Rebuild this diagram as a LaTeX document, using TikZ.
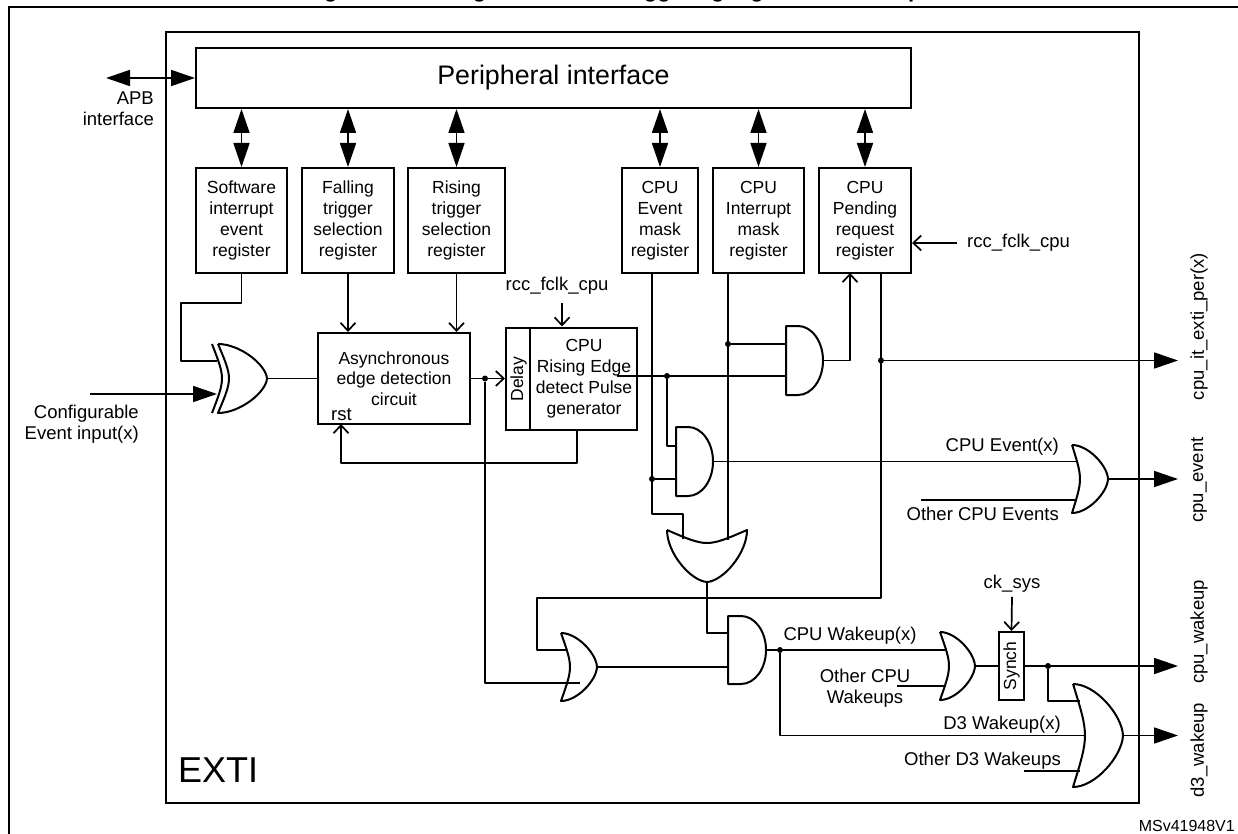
\documentclass[tikz,border=0pt]{standalone}
\usepackage{fontspec}
\setmainfont{Liberation Sans}
\usetikzlibrary{arrows.meta,calc}
\newcommand\fs[2]{\fontsize{#1pt}{#2pt}\selectfont}
\newcommand\andgate[4]{%
\draw[gate] (#1,#2) -- ({#4-25},#2) .. controls ({#4-11.2},#2) and (#4,{(#2+#3)/2-0.276*(#3-#2)}) .. (#4,{(#2+#3)/2}) .. controls (#4,{(#2+#3)/2+0.276*(#3-#2)}) and ({#4-11.2},#3) .. ({#4-25},#3) -- (#1,#3) -- cycle;}
\newcommand\orgate[5]{%
\draw[gate] (#1,#2) .. controls ({#1+0.45*(#4-#1)},#2) and ({#4-0.02*(#4-#1)},{(#2+#3)/2-0.2*(#3-#2)}) .. (#4,{(#2+#3)/2}) .. controls ({#4-0.02*(#4-#1)},{(#2+#3)/2+0.2*(#3-#2)}) and ({#1+0.45*(#4-#1)},#3) .. (#1,#3) .. controls ({#1+1.33*#5},{(#2+#3)/2}) .. (#1,#2);}
\tikzset{
 wire/.style={line width=1.7pt, line join=round},
 frame/.style={draw, line width=2pt},
 gate/.style={line width=2pt, line join=round},
 big/.style={wire, -{Triangle[length=24pt,width=16pt]}},
 dbl/.style={wire, {Triangle[length=24pt,width=16pt]}-{Triangle[length=24pt,width=16pt]}},
 opena/.style={wire, -{Straight Barb[length=8pt,width=15pt]}},
 jdot/.style={circle, fill, inner sep=0pt, minimum size=6pt},
 txt/.style={inner sep=0pt, font=\fs{18.5}{20.8}},
 regbox/.style={frame, inner sep=0pt, font=\fs{17.5}{21}, align=center, minimum height=105pt},
}
\begin{document}
\begin{tikzpicture}[x=1pt,y=-1pt]
\useasboundingbox (0,0) rectangle (1238,834);
% title (cut off by the page edge)
\node[font=\fs{22}{26}\bfseries, anchor=base, inner sep=0pt] (title) at (613,-2) {Figure 58. Configurable event triggering logic CPU wakeup};
% frames
\draw[frame] (9,834) -- (9,7) -- (1238,7);
\draw[frame] (166,32) rectangle (1139,803);
\node[inner sep=0pt, font=\fs{36}{40}, anchor=base west] (exti) at (178,782) {EXTI};
\node[inner sep=0pt, font=\fs{16}{18}, anchor=base east] (ms) at (1235,831) {MSv41948V1};
% peripheral interface
\node[frame, minimum width=715pt, minimum height=60pt, inner sep=0pt, font=\fs{26.8}{30}] (periph) at (553.5,78) {Peripheral interface};
\coordinate (apbL) at (106,78);
\draw[dbl] (apbL) -- (periph.west);
\node[txt, align=right, anchor=east] (apbtxt) at (154,108.5) {APB\\interface};
% registers
\node[regbox, minimum width=91pt] (sw) at (241.5,220.5) {Software\\interrupt\\event\\register};
\node[regbox, minimum width=92pt] (fall) at (348,220.5) {Falling\\trigger\\selection\\register};
\node[regbox, minimum width=97pt] (rise) at (456.5,220.5) {Rising\\trigger\\selection\\register};
\node[regbox, minimum width=76pt] (evt) at (660,220.5) {CPU\\Event\\mask\\register};
\node[regbox, minimum width=91pt] (intr) at (758.5,220.5) {CPU\\Interrupt\\mask\\register};
\node[regbox, minimum width=92pt] (pend) at (865,220.5) {CPU\\Pending\\request\\register};
\foreach \r in {sw,fall,rise,evt,intr,pend} \draw[dbl] (periph.south -| \r.north) -- (\r.north);
% rcc clock to pending
\node[txt, anchor=west] (rcc2) at (967,243) {rcc\_fclk\_cpu};
\draw[opena] ([xshift=-10pt]rcc2.west) -- (rcc2.west -| pend.east);
% XOR gate
\draw[gate] (218,344) .. controls (240,344) and (266,364.7) .. (267,378.5) .. controls (266,392.3) and (240,413) .. (218,413) .. controls (232.6,378.5) .. (218,344);
\draw[gate] (212,344) .. controls (225.3,378.5) .. (212,413);
\coordinate (xorA) at (217,361);
\coordinate (xorB) at (217,394);
\coordinate (xorO) at (267,378.5);
\coordinate (cfgin) at (90,394);
\draw[big] (cfgin) -- (xorB);
\node[txt, align=right, anchor=east] (cfg) at (139,424) {Configurable\\Event input(x)};
\draw[wire] (sw.south) -- (241.5,303) -- (181,303) |- (xorA);
% async edge detection
\node[frame, minimum width=152pt, minimum height=91pt, inner sep=0pt, align=center, font=\fs{17.5}{20.6}] (async) at (394,378.5) {Asynchronous\\edge detection\\circuit};
\node[txt] (rst) at (341.5,415) {rst};
\draw[wire] (xorO) -- (async.west);
\draw[opena] (fall.south) -- (fall.south |- async.north);
\draw[opena] (rise.south) -- (rise.south |- async.north);
% rising edge detect
\node[frame, minimum width=131pt, minimum height=102pt, inner sep=0pt] (rising) at (571.5,378.5) {};
\draw[frame] ($(rising.north west)+(25,0)$) -- ($(rising.south west)+(25,0)$);
\node[txt, font=\fs{17.5}{21}, align=center] (risingtxt) at (584,378.5) {CPU\\Rising Edge\\detect Pulse\\generator};
\node[txt, rotate=90, font=\fs{17.5}{21}] (delay) at (518.5,379) {Delay};
\draw[opena] (async.east) -- (rising.west);
\node[jdot] (j1) at (485,378.5) {};
\node[txt] (rcc1) at (557,286) {rcc\_fclk\_cpu};
\coordinate (rcc1a) at (562,303);
\draw[opena] (rcc1a) -- (rcc1a |- rising.north);
\coordinate (rsta) at (577,429.5);
\coordinate (rstb) at (341,424);
\draw[opena] (rsta) -- (577,463) -| (rstb);
% rising output and AND1
\coordinate (riseout) at (617,376);
\coordinate (and1B) at (786,376);
\draw[wire] (riseout) -- (and1B);
\node[jdot] (j2) at (667,376) {};
\coordinate (introut) at (728,273);
\coordinate (or3B) at (728,539.5);
\draw[wire] (introut) -- (or3B);
\node[jdot] (j3) at (728,344) {};
\coordinate (and1A) at (786,344);
\draw[wire] (j3) -- (and1A);
\andgate{786}{326}{395}{823}
\coordinate (and1O) at (823,360.5);
\coordinate (pendin) at (850,273);
\draw[opena] (and1O) -| (pendin);
% pending output
\coordinate (pendout) at (881,273);
\coordinate (or6A) at (567,650);
\draw[wire] (pendout) -- (881,598) -- (537,598) |- (or6A);
\node[jdot] (j4) at (881,360.5) {};
\coordinate (out1) at (1178,360.5);
\draw[big] (j4) -- (out1);
% event mask and AND2
\coordinate (evtout) at (652,273);
\coordinate (or3A) at (683,539);
\draw[wire] (evtout) -- (652,514) -| (or3A);
\node[jdot] (j5) at (652,479) {};
\coordinate (and2B) at (676,479);
\draw[wire] (j5) -- (and2B);
\coordinate (and2A) at (676,446);
\draw[wire] (j2) |- (and2A);
\andgate{676}{427}{496}{713}
\coordinate (and2O) at (713,461.5);
\coordinate (or5A) at (1078,461.5);
\draw[wire] (and2O) -- (or5A);
\coordinate (oth1) at (921,500);
\coordinate (or5B) at (1077,500);
\draw[wire] (oth1) -- (or5B);
\orgate{1072}{445}{513}{1108}{8}
\coordinate (or5O) at (1108,479);
\coordinate (out2) at (1178,479);
\draw[big] (or5O) -- (out2);
\node[txt, anchor=east] (cpuevx) at (1059,447) {CPU Event(x)};
\node[txt, anchor=east] (othev) at (1059,514) {Other CPU Events};
% OR3 (pointing down)
\draw[gate] (667,530) .. controls (667,553.4) and (691,581) .. (707,582) .. controls (723,581) and (747,553.4) .. (747,530) .. controls (707,547.3) .. (667,530);
\coordinate (or3O) at (707,582);
\coordinate (and4A) at (728,633);
\draw[wire] (or3O) |- (and4A);
% OR6
\coordinate (or6B) at (580,683);
\draw[wire] (j1) |- (or6B);
\orgate{561}{633}{701}{597}{9}
\coordinate (or6O) at (597,667);
\coordinate (and4B) at (728,667);
\draw[wire] (or6O) -- (and4B);
% AND4
\andgate{728}{616}{684}{766}
\coordinate (and4O) at (766,650);
\node[jdot] (j6) at (780,650) {};
\draw[wire] (and4O) -- (j6);
\coordinate (or7A) at (946,650);
\draw[wire] (j6) -- (or7A);
\coordinate (or8B) at (1085,735.5);
\draw[wire] (j6) |- (or8B);
\node[txt] (cpuwk) at (850,636) {CPU Wakeup(x)};
\node[txt, align=center] (othwk) at (865,688) {Other CPU\\Wakeups};
\coordinate (oth2) at (897,686);
\coordinate (or7B) at (946,686);
\draw[wire] (oth2) -- (or7B);
\orgate{940}{632}{700}{975}{9}
% synch
\node[frame, minimum width=25pt, minimum height=68pt, inner sep=0pt] (synch) at (1011.5,666) {};
\node[txt, rotate=90, font=\fs{17.5}{20}] (synchtxt) at (synch) {Synch};
\coordinate (or7O) at (975,666);
\draw[wire] (or7O) -- (synch.west);
\node[txt] (cksys) at (1012,584) {ck\_sys};
\draw[opena] ([yshift=-4pt]cksys.south) -- (synch.north);
\node[jdot] (j7) at (1048,666) {};
\coordinate (out3) at (1178,666);
\draw[big] (synch.east) -- (out3);
\coordinate (or8A) at (1080,701);
\draw[wire] (j7) |- (or8A);
\coordinate (oth3) at (1024,771);
\coordinate (or8C) at (1080,771);
\draw[wire] (oth3) -- (or8C);
\orgate{1073}{684}{787}{1123}{12}
\coordinate (or8O) at (1123,735.5);
\coordinate (out4) at (1178,735.5);
\draw[big] (or8O) -- (out4);
\node[txt, anchor=east] (d3wk) at (1061,725) {D3 Wakeup(x)};
\node[txt, anchor=east] (othd3) at (1061,761) {Other D3 Wakeups};
% output labels
\node[txt, rotate=90] (o1) at (1199,326.5) {cpu\_it\_exti\_per(x)};
\node[txt, rotate=90] (o2) at (1199,480) {cpu\_event};
\node[txt, rotate=90] (o3) at (1199,632) {cpu\_wakeup};
\node[txt, rotate=90] (o4) at (1199,750) {d3\_wakeup};
\end{tikzpicture}
\end{document}
